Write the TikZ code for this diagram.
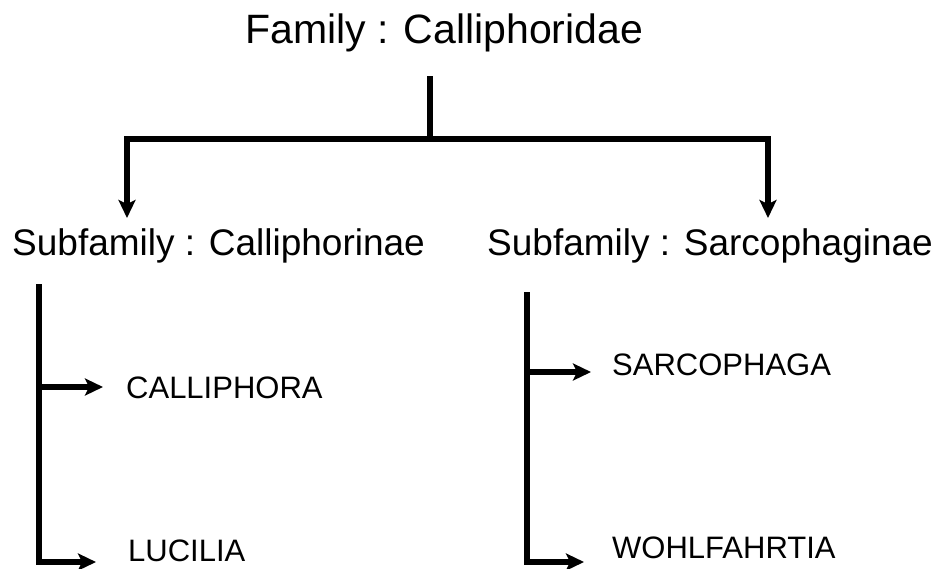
\documentclass[tikz,border=0pt]{standalone}
\usepackage{fontspec}
\setmainfont{Liberation Sans}
\usetikzlibrary{arrows.meta}
\begin{document}
\begin{tikzpicture}[x=1pt,y=-1pt,
  lbl/.style={inner sep=0pt,anchor=base west,text=black},
  famlbl/.style={lbl,font=\fontsize{41}{48}\selectfont},
  sublbl/.style={lbl,font=\fontsize{37}{44}\selectfont},
  genlbl/.style={lbl,font=\fontsize{31}{37}\selectfont},
  conn/.style={line width=5.2pt,line join=miter,draw=black},
  arr/.style={conn,-{Stealth[length=18pt,width=17pt,inset=4pt]}}]
\useasboundingbox (0,0) rectangle (939,568);
\fill[white] (0,0) rectangle (939,568);
% texts
\node[genlbl] (calli) at (126,398) {CALLIPHORA};
\node[famlbl] (fam) at (245,43) {Family : Calliphoridae};
\node[sublbl] (subA) at (12,255) {Subfamily : Calliphorinae};
\node[sublbl] (subB) at (487,255) {Subfamily : Sarcophaginae};
\node[genlbl] (luci) at (128,561) {LUCILIA};
\node[genlbl] (sarco) at (612,375) {SARCOPHAGA};
\node[genlbl] (wohl) at (612,558) {WOHLFAHRTIA};
% coordinates
\coordinate (stemtop) at (430,76);
\coordinate (bar) at (430,139);
\coordinate (tipA) at (127,218);
\coordinate (tipB) at (768,218);
\coordinate (lAtop) at (39,284);
\coordinate (tipCal) at (103,387);
\coordinate (tipLuc) at (96,562);
\coordinate (lBtop) at (527,292);
\coordinate (tipSar) at (591,372);
\coordinate (tipWoh) at (584,562);
% connectors
\draw[conn] (stemtop) -- (bar);
\draw[arr] (bar) -| (tipA);
\draw[arr] (bar) -| (tipB);
\draw[arr] (lAtop) |- (tipLuc);
\draw[arr] (lAtop |- tipCal) -- (tipCal);
\draw[arr] (lBtop) |- (tipWoh);
\draw[arr] (lBtop |- tipSar) -- (tipSar);
\end{tikzpicture}
\end{document}
